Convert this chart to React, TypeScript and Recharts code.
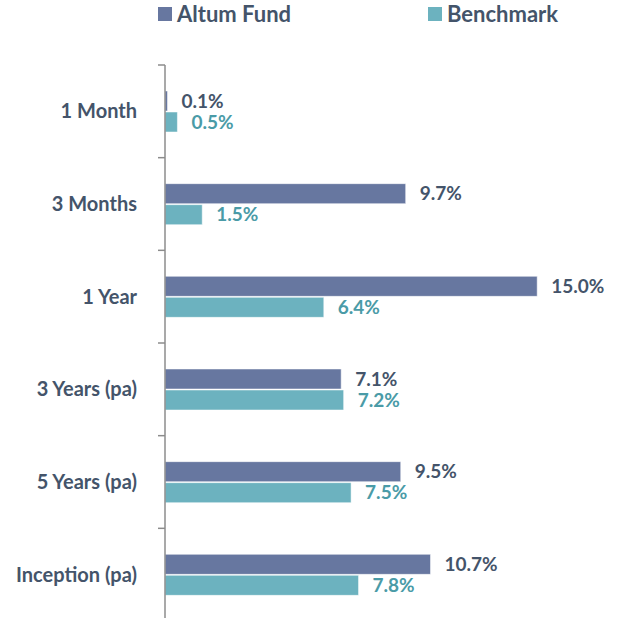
import { BarChart, Bar, XAxis, YAxis, LabelList, Legend } from "recharts";

const periods = ["1 Month", "3 Months", "1 Year", "3 Years (pa)", "5 Years (pa)", "Inception (pa)"];
const fundReturns = [0.1, 9.7, 15.0, 7.1, 9.5, 10.7];
const benchmarkReturns = [0.5, 1.5, 6.4, 7.2, 7.5, 7.8];

const FUND_COLOR = "#6777A0";
const BENCH_COLOR = "#6CB2BF";
const TEXT_COLOR = "#44546A";
const BENCH_TEXT = "#4A9BA7";
const FONT = "Lato, 'Open Sans', sans-serif";

const data = periods.map((p, i) => ({
  period: p,
  fund: fundReturns[i],
  bench: benchmarkReturns[i],
}));

const CHART_W = 617;
const CHART_H = 622;
const LEGEND_H = 30;
const PLOT_TOP = 65;
const MARGIN = { top: PLOT_TOP - LEGEND_H, right: 55, bottom: 1, left: 0 };
const BAND = (CHART_H - PLOT_TOP - MARGIN.bottom) / periods.length;

function CategoryTick(props: any) {
  const { x, y, payload } = props;
  return (
    <g>
      <line x1={x + 1} x2={x + 8} y1={y - BAND / 2} y2={y - BAND / 2} stroke="#8c8c8c" strokeWidth={1.5} />
      <text
        x={x - 20}
        y={y}
        dy="0.35em"
        textAnchor="end"
        fill={TEXT_COLOR}
        fontFamily={FONT}
        fontWeight={700}
        fontSize={20}
      >
        {payload.value}
      </text>
    </g>
  );
}

function LegendContent() {
  const item = (left: number, color: string, label: string) => (
    <div style={{ position: "absolute", left, top: 1, height: 26, display: "flex", alignItems: "center" }}>
      <div style={{ width: 14, height: 14, background: color, marginRight: 5 }} />
      <span style={{ fontFamily: FONT, fontWeight: 700, fontSize: 22, lineHeight: "26px", color: TEXT_COLOR }}>
        {label}
      </span>
    </div>
  );
  return (
    <div style={{ position: "relative", height: LEGEND_H, width: CHART_W }}>
      {item(158, FUND_COLOR, "Altum Fund")}
      {item(428, BENCH_COLOR, "Benchmark")}
    </div>
  );
}

const pct = (v: any) => `${Number(v).toFixed(1)}%`;

export default function App() {
  return (
    <div style={{ position: "absolute", top: 0, left: 0, width: CHART_W, height: 618, overflow: "hidden" }}>
      <BarChart
        width={CHART_W}
        height={CHART_H}
        data={data}
        layout="vertical"
        margin={MARGIN}
        barSize={20}
        barGap={1}
      >
        <Legend
          verticalAlign="top"
          align="left"
          content={<LegendContent />}
          wrapperStyle={{ top: 0, left: 0, width: CHART_W, height: LEGEND_H }}
        />
        <XAxis type="number" domain={[0, 16]} hide />
        <YAxis
          type="category"
          dataKey="period"
          width={165}
          axisLine={{ stroke: "#8c8c8c", strokeWidth: 1.5 }}
          tickLine={false}
          tick={<CategoryTick />}
          interval={0}
        />
        <Bar dataKey="fund" fill={FUND_COLOR} stroke="#ffffff" strokeWidth={0.5} isAnimationActive={false}>
          <LabelList
            dataKey="fund"
            position="right"
            offset={14}
            formatter={pct}
            fill={TEXT_COLOR}
            fontFamily={FONT}
            fontWeight={700}
            fontSize={19}
          />
        </Bar>
        <Bar dataKey="bench" fill={BENCH_COLOR} stroke="#ffffff" strokeWidth={0.5} isAnimationActive={false}>
          <LabelList
            dataKey="bench"
            position="right"
            offset={14}
            formatter={pct}
            fill={BENCH_TEXT}
            fontFamily={FONT}
            fontWeight={700}
            fontSize={19}
          />
        </Bar>
      </BarChart>
    </div>
  );
}
